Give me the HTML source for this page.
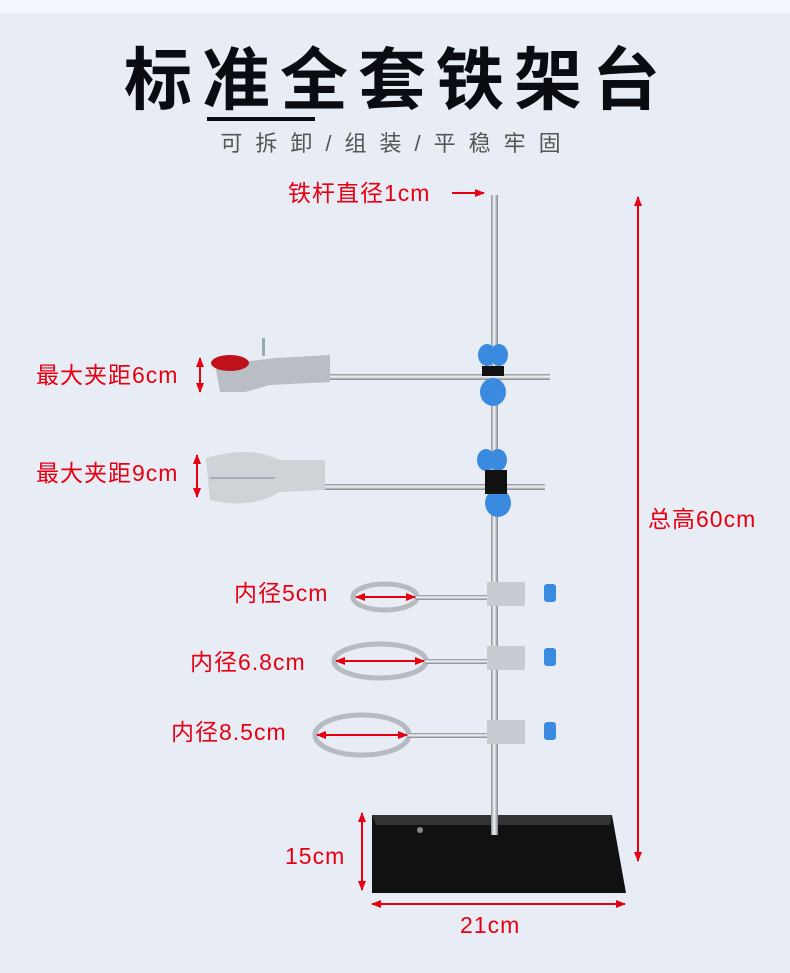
<!DOCTYPE html>
<html><head><meta charset="utf-8"><style>
html,body{margin:0;padding:0;background:#e8edf5;}
svg{display:block;}
text{font-family:"Liberation Sans","Noto Sans CJK SC",sans-serif;}
</style></head><body>
<svg width="790" height="973" viewBox="0 0 790 973" xmlns="http://www.w3.org/2000/svg">
<defs>
<linearGradient id="rod" x1="0" x2="1"><stop offset="0" stop-color="#8a8f96"/><stop offset="0.45" stop-color="#f4f6f8"/><stop offset="1" stop-color="#7d838b"/></linearGradient>
<linearGradient id="hrod" x1="0" x2="0" y1="0" y2="1"><stop offset="0" stop-color="#8a8f96"/><stop offset="0.45" stop-color="#f4f6f8"/><stop offset="1" stop-color="#7d838b"/></linearGradient>
<marker id="ah" markerUnits="userSpaceOnUse" markerWidth="10" markerHeight="8" refX="9" refY="4" orient="auto-start-reverse"><path d="M0,0 L10,4 L0,8 z" fill="#e60012"/></marker>
</defs>
<rect x="0" y="0" width="790" height="13" fill="#f3f7fd"/>
<rect x="0" y="13" width="790" height="960" fill="#e8edf5"/>
<text x="397" y="104" font-size="68" font-weight="bold" text-anchor="middle" fill="#0a0c12" letter-spacing="10">标准全套铁架台</text>
<rect x="207" y="117" width="108" height="4" fill="#0a0c12"/>
<text x="397" y="151" font-size="22" text-anchor="middle" fill="#555" letter-spacing="13">可拆卸/组装/平稳牢固</text>

<!-- base -->
<path d="M372,815 L612,815 L626,893 L372,893 Z" fill="#111"/>
<path d="M372,815 L612,815 L610,825 L376,825 Z" fill="#333"/>
<circle cx="420" cy="830" r="3" fill="#888"/>
<!-- rod -->
<rect x="491" y="195" width="7" height="640" fill="url(#rod)"/>

<!-- clamp 1 -->
<rect x="310" y="374" width="240" height="6" fill="url(#hrod)"/>
<path d="M215,365 L275,358 L330,355 L330,382 L270,385 L245,392 L220,392 Z" fill="#b9bec5"/>
<ellipse cx="230" cy="363" rx="19" ry="8" fill="#c0101c"/>
<rect x="262" y="338" width="3" height="18" fill="#9aa"/>
<!-- clamp 2 -->
<rect x="320" y="484" width="225" height="6" fill="url(#hrod)"/>
<path d="M206,458 Q250,445 280,460 L325,460 L325,490 L280,492 Q250,510 210,500 Z" fill="#cfd3d8"/>
<path d="M210,478 L275,478" stroke="#aab" stroke-width="2"/>
<!-- bosses -->
<g fill="#3a8be0"><ellipse cx="487" cy="355" rx="9" ry="11"/><ellipse cx="499" cy="355" rx="9" ry="11"/><ellipse cx="493" cy="392" rx="13" ry="14"/>
<ellipse cx="486" cy="460" rx="9" ry="11"/><ellipse cx="498" cy="460" rx="9" ry="11"/><ellipse cx="498" cy="503" rx="13" ry="14"/></g>
<rect x="482" y="366" width="22" height="10" fill="#111"/>
<rect x="485" y="470" width="22" height="24" fill="#111"/>

<!-- rings -->
<g fill="none" stroke="#b6bbc2" stroke-width="5">
<ellipse cx="385" cy="597" rx="32" ry="13"/>
<ellipse cx="380" cy="661" rx="46" ry="17"/>
<ellipse cx="362" cy="735" rx="47" ry="20"/>
</g>
<rect x="416" y="595" width="80" height="5" fill="url(#hrod)"/>
<rect x="425" y="659" width="70" height="5" fill="url(#hrod)"/>
<rect x="408" y="733" width="85" height="5" fill="url(#hrod)"/>
<g fill="#c8ccd2"><rect x="487" y="582" width="38" height="24"/><rect x="487" y="646" width="38" height="24"/><rect x="487" y="720" width="38" height="24"/></g>
<g fill="#3a8be0"><rect x="544" y="584" width="12" height="18" rx="3"/><rect x="544" y="648" width="12" height="18" rx="3"/><rect x="544" y="722" width="12" height="18" rx="3"/></g>

<!-- dimension arrows -->
<g stroke="#e60012" stroke-width="2" fill="none">
<line x1="452" y1="193" x2="484" y2="193" marker-end="url(#ah)"/>
<line x1="638" y1="197" x2="638" y2="861" marker-start="url(#ah)" marker-end="url(#ah)"/>
<line x1="200" y1="358" x2="200" y2="392" marker-start="url(#ah)" marker-end="url(#ah)"/>
<line x1="197" y1="455" x2="197" y2="497" marker-start="url(#ah)" marker-end="url(#ah)"/>
<line x1="362" y1="813" x2="362" y2="890" marker-start="url(#ah)" marker-end="url(#ah)"/>
<line x1="372" y1="904" x2="625" y2="904" marker-start="url(#ah)" marker-end="url(#ah)"/>
<line x1="356" y1="597" x2="415" y2="597" marker-start="url(#ah)" marker-end="url(#ah)"/>
<line x1="336" y1="661" x2="424" y2="661" marker-start="url(#ah)" marker-end="url(#ah)"/>
<line x1="317" y1="735" x2="407" y2="735" marker-start="url(#ah)" marker-end="url(#ah)"/>
</g>
<g fill="#e60012" font-size="23" letter-spacing="1">
<text x="288" y="201">铁杆直径1cm</text>
<text x="36" y="383">最大夹距6cm</text>
<text x="36" y="481">最大夹距9cm</text>
<text x="234" y="601">内径5cm</text>
<text x="190" y="670">内径6.8cm</text>
<text x="171" y="740">内径8.5cm</text>
<text x="648" y="527">总高60cm</text>
<text x="285" y="864">15cm</text>
<text x="460" y="933">21cm</text>
</g>
</svg>
</body></html>
